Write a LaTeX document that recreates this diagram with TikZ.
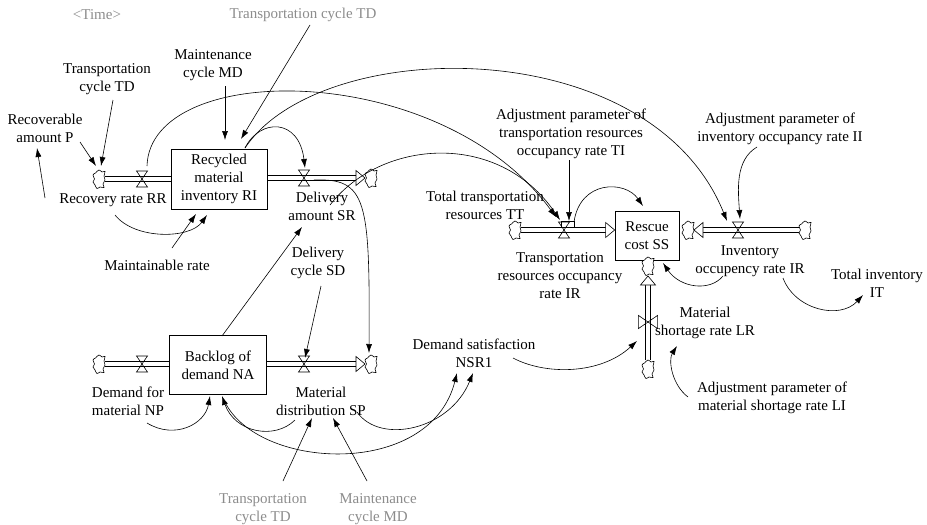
\documentclass[tikz,border=0pt]{standalone}
\usepackage{fontspec}
\setmainfont{Liberation Serif}
\usetikzlibrary{arrows.meta,calc}
\definecolor{ghost}{HTML}{8C8C8C}
\tikzset{
  var/.style={align=center, inner sep=1pt, font=\fontsize{15}{18}\selectfont},
  greyvar/.style={var, text=ghost},
  stockbox/.style={var, draw, line width=0.7pt},
  link/.style={-{Latex[length=9pt,width=6pt]}, line width=0.6pt},
  pipeedge/.style={line width=0.75pt},
  valve/.pic={\draw[line width=0.6pt] (-5.5,-8) -- (5.5,-8) -- (-5.5,8) -- (5.5,8) -- cycle;},
  flowtip/.pic={\draw[line width=0.6pt, fill=white] (0,0) -- (-9,-7.5) -- (-9,7.5) -- cycle;},
  sink/.pic={\draw[line width=0.6pt, fill=white] plot[smooth cycle, tension=0.8] coordinates
    {(0,-9) (3,-7) (6,-7.5) (5,-3) (6,1) (4,5) (5,8.5) (1,8) (-2,9.5) (-4,6) (-6,3) (-4.5,0) (-6,-4) (-3.5,-6)};}
}
% two edges of a flow pipe
\newcommand{\hpipe}[2]{\draw[pipeedge] ([yshift=2.5pt]#1) -- ([yshift=2.5pt]#2) ([yshift=-2.5pt]#1) -- ([yshift=-2.5pt]#2);}
\newcommand{\vpipe}[2]{\draw[pipeedge] ([xshift=2.5pt]#1) -- ([xshift=2.5pt]#2) ([xshift=-2.5pt]#1) -- ([xshift=-2.5pt]#2);}

\begin{document}
\begin{tikzpicture}[x=1pt, y=-1pt]
\useasboundingbox (0,0) rectangle (927,525);
% Stocks
\node[stockbox, minimum width=96, minimum height=60] (ri) at (219,179) {Recycled\\material\\inventory RI};
\node[stockbox, minimum width=97, minimum height=59] (na) at (218,365) {Backlog of\\demand NA};
\node[stockbox, minimum width=64, minimum height=49] (ss) at (647,236) {Rescue\\cost SS};
% Valves and clouds
\coordinate (vrr) at (142,179);
\coordinate (vsr) at (304,178);
\coordinate (vnp) at (142,364);
\coordinate (vsp) at (304,364);
\coordinate (vtr) at (564,230);
\coordinate (vinv) at (738,230);
\coordinate (vlr) at (648,322);
\coordinate (c1) at (99,179);
\coordinate (c2) at (371,178);
\coordinate (c3) at (99,364);
\coordinate (c4) at (371,364);
\coordinate (c5) at (515,230);
\coordinate (c6) at (688,230);
\coordinate (c7) at (805,230);
\coordinate (c8) at (648,369);
\coordinate (c9) at (648,266);
% Variables
\node[greyvar] (time) at (97,15) {<Time>};
\node[greyvar] (tdtop) at (303,15) {Transportation cycle TD};
\node[var] (mdtop) at (213,65) {Maintenance\\cycle MD};
\node[var] (tdleft) at (107,79) {Transportation\\cycle TD};
\node[var] (recp) at (45,128) {Recoverable\\amount P};
\node[var] (rr) at (113,200) {Recovery rate RR};
\node[var] (mrate) at (157,265) {Maintainable rate};
\node[var] (sr) at (322,206) {Delivery\\amount SR};
\node[var] (sd) at (318,263) {Delivery\\cycle SD};
\node[var] (np) at (128,401) {Demand for\\material NP};
\node[var] (sp) at (321,401) {Material\\distribution SP};
\node[var] (nsr) at (474,353) {Demand satisfaction\\NSR1};
\node[greyvar] (tdbot) at (263,509) {Transportation\\cycle TD};
\node[greyvar] (mdbot) at (378,509) {Maintenance\\cycle MD};
\node[var] (ti) at (571,134) {Adjustment parameter of\\transportation resources\\occupancy rate TI};
\node[var] (tt) at (485,205) {Total transportation\\resources TT};
\node[var] (tir) at (560,276) {Transportation\\resources occupancy\\rate IR};
\node[var] (ii) at (780,129) {Adjustment parameter of\\inventory occupancy rate II};
\node[var] (iir) at (750,261) {Inventory\\occupency rate IR};
\node[var] (it) at (877,283) {Total inventory\\IT};
\node[var] (lr) at (705,323) {Material\\shortage rate LR};
\node[var] (li) at (772,398) {Adjustment parameter of\\material shortage rate LI};
% Pipe ends
\coordinate (rrs) at ([shift={(6,0)}]c1);
\path (ri.west |- c1) coordinate (rre);
\path (ri.east |- c2) coordinate (srs);
\coordinate (sre) at ([shift={(-15,0)}]c2);
\coordinate (nps) at ([shift={(6,0)}]c3);
\path (na.west |- c3) coordinate (npe);
\path (na.east |- c4) coordinate (sps);
\coordinate (spe) at ([shift={(-15,0)}]c4);
\coordinate (trs) at ([shift={(6,0)}]c5);
\path (ss.west |- c5) coordinate (trtip);
\coordinate (tre) at ([shift={(-9,0)}]trtip);
\coordinate (invs) at ([shift={(-6,0)}]c7);
\coordinate (inve) at ([shift={(15,0)}]c6);
\coordinate (lrs) at ([shift={(0,-9)}]c8);
\coordinate (lre) at ([shift={(0,19)}]c9);
% Pipes
\hpipe{rrs}{rre}
\hpipe{srs}{sre}
\hpipe{nps}{npe}
\hpipe{sps}{spe}
\hpipe{trs}{tre}
\hpipe{invs}{inve}
\vpipe{lrs}{lre}
\pic at ([shift={(-6,0)}]c2) {flowtip};
\pic at ([shift={(-6,0)}]c4) {flowtip};
\pic at (trtip) {flowtip};
\pic[rotate=180] at ([shift={(6,0)}]c6) {flowtip};
\pic[rotate=90] at ([shift={(0,10)}]c9) {flowtip};
\foreach \v in {vrr,vsr,vnp,vsp,vtr,vinv} \pic at (\v) {valve};
\pic[rotate=90, scale=1.2] at (vlr) {valve};
\draw[line width=0.6pt] ([shift={(-3,-2)}]vtr) -- ([shift={(-3,-9)}]vtr) -- ([shift={(10,-9)}]vtr) -- ([shift={(10,-2)}]vtr);
\foreach \c in {c1,c2,c3,c4,c5,c6,c7,c8,c9} \pic at (\c) {sink};
% Links, upper chain
\draw[link] ([shift={(12,21)}]mdtop.center) -- ([shift={(6,-39)}]ri.center);
\draw[link] ([shift={(7,10)}]tdtop.center) -- ([shift={(22,-40)}]ri.center);
\draw[link] ([shift={(6,21)}]tdleft.center) -- ([shift={(2,-13)}]c1);
\draw[link] ([shift={(35,14)}]recp.center) -- ([shift={(-3,-13)}]c1);
\draw[link] ([shift={(-68,-2)}]rr.center) -- ([shift={(-8,20)}]recp.center);
\draw[link] ([shift={(2,15)}]rr.center) .. controls +(20,25) and +(-17,24) .. ([shift={(-12,36)}]ri.center);
\draw[link] ([shift={(15,-17)}]mrate.center) -- ([shift={(-23,35)}]ri.center);
\draw[link] ([shift={(5,-13)}]vrr) .. controls +(3,-106) and +(-116,-158) .. ([shift={(-8,-13)}]vtr);
\draw[link] ([shift={(26,-31)}]ri.center) .. controls +(75,-113) and +(-77,-191) .. ([shift={(-11,-9)}]vinv);
\draw[link] ([shift={(26,-31)}]ri.center) .. controls +(15,-30) and +(-6,-50) .. ([shift={(1,-10)}]vsr);
\draw[link] ([shift={(8,-1)}]sr.center) .. controls +(50,-65) and +(-62,-91) .. ([shift={(-4,-10)}]vtr);
\draw[link] ([shift={(10,2)}]vsr) .. controls +(53,-2) and +(1,-153) .. ([shift={(-2,-11)}]c4);
\draw[link] ([shift={(4,-29)}]na.center) -- ([shift={(-20,21)}]sr.center);
\draw[link] ([shift={(3,23)}]sd.center) -- ([shift={(1,-6)}]vsp);
% Links, lower chain
\draw[link] ([shift={(19,22)}]np.center) .. controls +(28,17) and +(-5,28) .. ([shift={(-8,31)}]na.center);
\draw[link] ([shift={(-26,19)}]sp.center) .. controls +(-20,20) and +(13,37) .. ([shift={(4,31)}]na.center);
\draw[link] ([shift={(6,35)}]na.center) .. controls +(31,70) and +(-27,107) .. ([shift={(-17,20)}]nsr.center);
\draw[link] ([shift={(36,11)}]sp.center) .. controls +(23,33) and +(-23,57) .. ([shift={(-1,20)}]nsr.center);
\draw[link] ([shift={(20,-28)}]tdbot.center) -- ([shift={(-9,17)}]sp.center);
\draw[link] ([shift={(-11,-28)}]mdbot.center) -- ([shift={(12,17)}]sp.center);
\draw[link] ([shift={(39,5)}]nsr.center) .. controls +(32,17) and +(-37,34) .. ([shift={(-11,19)}]vlr);
% Links, right side
\draw[link] ([shift={(-84,-1)}]li.center) .. controls +(-16,-12) and +(-9,14) .. ([shift={(-28,23)}]lr.center);
\draw[link] ([shift={(-27,15)}]iir.center) .. controls +(-13,16) and +(17,25) .. ([shift={(16,27)}]ss.center);
\draw[link] ([shift={(33,17)}]iir.center) .. controls +(12,32) and +(-23,25) .. ([shift={(-14,12)}]it.center);
\draw[link] ([shift={(-23,18)}]ii.center) .. controls +(-22,13) and +(-2,-29) .. ([shift={(2,-11)}]vinv);
\draw[link] ([shift={(-2,26)}]ti.center) -- ([shift={(5,-9)}]vtr);
\draw[link] ([shift={(10,-8)}]vtr) .. controls +(6,-42) and +(-18,-26) .. ([shift={(-4,-30)}]ss.center);
\end{tikzpicture}
\end{document}
